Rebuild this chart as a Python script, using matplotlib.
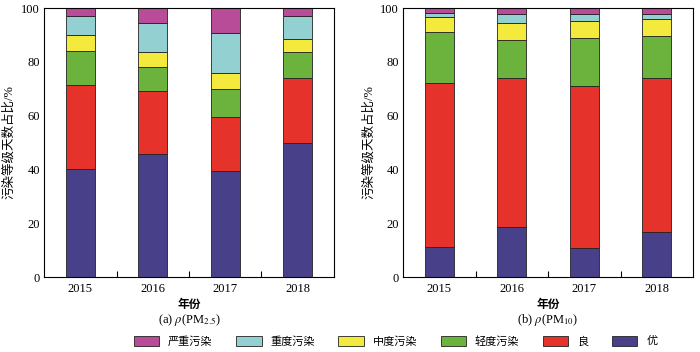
import numpy as np
import matplotlib
matplotlib.use("Agg")
import matplotlib.pyplot as plt
from matplotlib.patches import Patch

plt.rcParams['font.family'] = ['Liberation Serif', 'Noto Sans CJK SC']
plt.rcParams['mathtext.fontset'] = 'stix'

years = ["2015", "2016", "2017", "2018"]
levels = ["优", "良", "轻度污染", "中度污染", "重度污染", "严重污染"]
colors = ["#48418a", "#e5322b", "#6cb33e", "#f3ea3d", "#92d0d2", "#b84c98"]

# share of days per level (%), bottom to top
pm25 = {
    "优": [40.0, 45.8, 39.5, 49.9],
    "良": [31.4, 23.3, 19.9, 24.1],
    "轻度污染": [12.6, 9.1, 10.4, 9.5],
    "中度污染": [6.0, 5.3, 6.2, 5.1],
    "重度污染": [7.0, 10.8, 14.8, 8.4],
    "严重污染": [3.0, 5.7, 9.2, 3.0],
}
pm10 = {
    "优": [11.2, 18.6, 10.7, 16.6],
    "良": [60.9, 55.5, 60.4, 57.5],
    "轻度污染": [19.1, 14.0, 17.9, 15.4],
    "中度污染": [5.5, 6.4, 6.2, 6.5],
    "重度污染": [1.6, 3.4, 2.6, 1.9],
    "严重污染": [1.7, 2.1, 2.2, 2.1],
}

fig = plt.figure(figsize=(7.0, 3.52), dpi=100)
ax1 = fig.add_axes([0.063, 0.213, 0.414, 0.764])
ax2 = fig.add_axes([0.576, 0.213, 0.414, 0.764])

x = np.arange(len(years))
for ax, data, cap in [(ax1, pm25, r"(a) $\rho$(PM$_{2.5}$)"),
                      (ax2, pm10, r"(b) $\rho$(PM$_{10}$)")]:
    bottom = np.zeros(len(years))
    for lev, c in zip(levels, colors):
        vals = np.array(data[lev])
        ax.bar(x, vals, 0.4, bottom=bottom, color=c, edgecolor="#222222", linewidth=0.6)
        bottom += vals
    ax.set_xlim(-0.5, 3.5)
    ax.set_ylim(0, 100)
    ax.set_xticks(x)
    ax.set_xticklabels(years, fontsize=9)
    ax.set_xticks([0.5, 1.5, 2.5], minor=True)
    ax.tick_params(axis="x", which="major", length=0, pad=4)
    ax.tick_params(axis="x", which="minor", direction="in", length=4, width=0.8)
    ax.set_yticks([0, 20, 40, 60, 80, 100])
    ax.tick_params(axis="y", length=0, labelsize=9, pad=3)
    for s in ax.spines.values():
        s.set_linewidth(0.8)
    ax.set_ylabel("污染等级天数占比/%", fontsize=9, labelpad=4)
    ax.set_xlabel("年份", fontsize=8.5, fontweight="bold", labelpad=3)
    ax.text(0.5, -0.16, cap, transform=ax.transAxes, ha="center", va="center", fontsize=9)

handles = [Patch(facecolor=c, edgecolor="#222222", linewidth=0.6, label=l)
           for l, c in zip(levels[::-1], colors[::-1])]
fig.legend(handles=handles, loc="center", bbox_to_anchor=(0.565, 0.031), ncol=6,
           frameon=False, fontsize=8, handlelength=2.3, handleheight=1.0,
           columnspacing=2.1, handletextpad=0.8, borderpad=0.1)

fig.savefig("out.png", dpi=100)
